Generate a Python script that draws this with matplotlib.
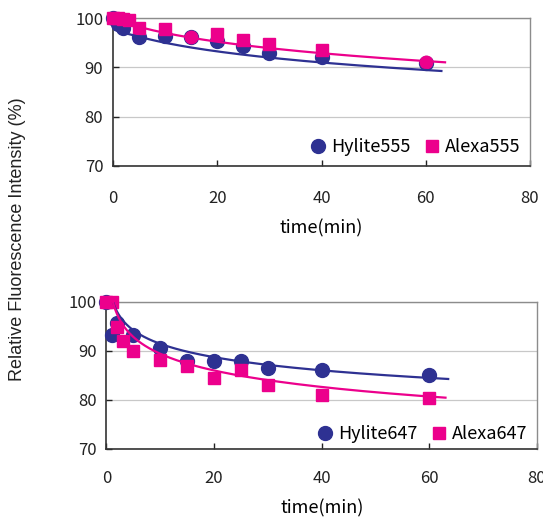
import numpy as np
import matplotlib
matplotlib.use("Agg")
import matplotlib.pyplot as plt
from matplotlib.lines import Line2D

# Photobleaching of Hylite vs Alexa dyes, relative intensity (%) against time (min)
t_hylite555 = [0, 1, 2, 5, 10, 15, 20, 25, 30, 40, 60]
hylite555 = [100, 98.8, 98.0, 96.2, 96.3, 96.2, 95.4, 94.3, 92.9, 92.1, 90.8]
t_alexa555 = [0, 1, 2, 3, 5, 10, 15, 20, 25, 30, 40, 60]
alexa555 = [100, 100, 99.9, 99.5, 98.0, 97.7, 96.2, 96.7, 95.5, 94.7, 93.6, 91.0]

t_hylite647 = [0, 1, 2, 5, 10, 15, 20, 25, 30, 40, 60]
hylite647 = [100, 93.2, 95.6, 93.2, 90.6, 87.8, 88.0, 87.8, 86.5, 86.0, 85.1]
t_alexa647 = [0, 1, 2, 3, 5, 10, 15, 20, 25, 30, 40, 60]
alexa647 = [100, 100, 94.9, 91.9, 89.9, 88.2, 86.8, 84.4, 86.0, 83.0, 81.0, 80.4]

# points of the Alexa555 series that were drawn with a round marker
alexa555_round = [15, 60]

# trendlines (time, value)
trend_t_hylite555 = [3, 5, 10, 20, 30, 40, 63]
trend_hylite555 = [97.0, 95.9, 94.8, 93.3, 92.2, 91.2, 89.0]
trend_t_alexa555 = [2, 5, 10, 20, 30, 40, 63.7]
trend_alexa555 = [99.0, 97.9, 96.9, 95.3, 94.1, 93.0, 90.8]
trend_t_hylite647 = [1.2, 10, 25, 40, 63.5]
trend_hylite647 = [100.0, 91.1, 88.2, 86.0, 84.1]
trend_t_alexa647 = [1.2, 10, 25, 40, 63]
trend_alexa647 = [100.0, 88.7, 85.6, 82.9, 80.0]

NAVY = "#2E3192"
PINK = "#EC008C"
TICK_FONT = ["Noto Sans CJK JP", "DejaVu Sans"]


def trend_curve(ts, ys):
    """Smooth curve through trendline readings (quadratic in log-log)."""
    coef = np.polyfit(np.log(ts), np.log(ys), 2)
    t = np.geomspace(ts[0], ts[-1], 200)
    return t, np.exp(np.polyval(coef, np.log(t)))


def style_axes(ax, xpad, xlabelpad):
    ax.set_xlim(0, 80)
    ax.set_ylim(70, 100)
    ax.set_xticks([0, 20, 40, 60, 80])
    ax.set_yticks([70, 80, 90, 100])
    ax.tick_params(direction="in", length=4, width=1, labelsize=12, colors="#222222")
    ax.tick_params(axis="x", pad=xpad)
    ax.tick_params(axis="y", pad=7)
    for lab in ax.get_xticklabels() + ax.get_yticklabels():
        lab.set_family(TICK_FONT)
    ax.grid(axis="y", color="#C8C8C8", lw=0.9)
    ax.set_axisbelow(True)
    for side in ["top", "right"]:
        ax.spines[side].set_color("#8C8C8C")
        ax.spines[side].set_linewidth(1.0)
    for side in ["left", "bottom"]:
        ax.spines[side].set_color("#333333")
        ax.spines[side].set_linewidth(1.2)
    ax.set_xlabel("time(min)", fontsize=13, family=TICK_FONT, labelpad=xlabelpad)


def plot_panel(ax, t_hy, hy, t_al, al, trends, names, legend_at, round_pts=()):
    ax.plot(t_hy, hy, "o", color=NAVY, ms=10, mec=NAVY, clip_on=False, zorder=3)
    sq_t = [t for t in t_al if t not in round_pts]
    sq_v = [v for t, v in zip(t_al, al) if t not in round_pts]
    ax.plot(sq_t, sq_v, "s", color=PINK, ms=8, mec=PINK, clip_on=False, zorder=4)
    if round_pts:
        rt = [t for t in t_al if t in round_pts]
        rv = [v for t, v in zip(t_al, al) if t in round_pts]
        ax.plot(rt, rv, "o", color=PINK, ms=9, mec=PINK, clip_on=False, zorder=4)
    for (ts, ys), col in zip(trends, [NAVY, PINK]):
        t, y = trend_curve(ts, ys)
        ax.plot(t, y, color=col, lw=1.6, zorder=5)
    handles = [
        Line2D([], [], ls="none", marker="o", ms=10, color=NAVY),
        Line2D([], [], ls="none", marker="s", ms=8, color=PINK),
    ]
    ax.legend(handles, names, loc="center right", bbox_to_anchor=legend_at, ncol=2,
              frameon=False, prop={"family": TICK_FONT, "size": 13}, handlelength=0.8,
              handletextpad=0.3, columnspacing=0.8, borderpad=0, borderaxespad=0)


fig = plt.figure(figsize=(5.43, 5.21), dpi=100)
ax1 = fig.add_axes([0.2081, 0.6814, 0.768, 0.284])
ax2 = fig.add_axes([0.1961, 0.1382, 0.7928, 0.2831])

plot_panel(ax1, t_hylite555, hylite555, t_alexa555, alexa555,
           [(trend_t_hylite555, trend_hylite555), (trend_t_alexa555, trend_alexa555)],
           ["Hylite555", "Alexa555"], (0.976, 0.128), round_pts=alexa555_round)
plot_panel(ax2, t_hylite647, hylite647, t_alexa647, alexa647,
           [(trend_t_hylite647, trend_hylite647), (trend_t_alexa647, trend_alexa647)],
           ["Hylite647", "Alexa647"], (0.977, 0.102))
style_axes(ax1, 17, 9)
style_axes(ax2, 15, 9)

fig.text(0.033, 0.54, "Relative Fluorescence Intensity (%)", rotation=90,
         ha="center", va="center", fontsize=13, family="Liberation Sans", color="#222222")

fig.savefig("out.png", dpi=100)
